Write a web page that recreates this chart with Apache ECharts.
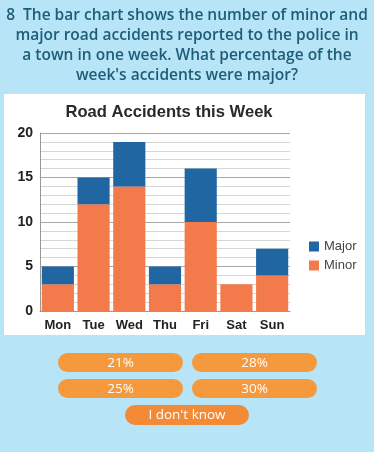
<!DOCTYPE html>
<html><head><meta charset="utf-8">
<script src="https://cdn.jsdelivr.net/npm/echarts@6/dist/echarts.min.js"></script>
<style>html,body{margin:0;padding:0;background:#b8e4f7;}#c{width:374px;height:452px;}</style>
</head><body><div id="c"></div>
<script>
var questionLines = [
  '8  The bar chart shows the number of minor and',
  'major road accidents reported to the police in',
  'a town in one week. What percentage of the',
  "week's accidents were major?"
];
var chartTitle = 'Road Accidents this Week';
var days = ['Mon','Tue','Wed','Thu','Fri','Sat','Sun'];
var minor = [3, 12, 14, 3, 10, 3, 4];
var major = [2, 3, 5, 2, 6, 0, 3];
var answers = ['21%','28%','25%','30%'];
var dontKnow = "I don't know";

var chart = echarts.init(document.getElementById('c'));
var g = [];
g.push({type:'rect', shape:{x:4,y:94,width:361,height:241}, style:{fill:'#ffffff'}, z:-10});
questionLines.forEach(function(t,i){
  g.push({type:'text', x:187, y:16+i*20, style:{text:t, fill:'#1d5d77', font:'600 15.5px "Open Sans", sans-serif', align:'center', verticalAlign:'middle'}});
});
var btn = [[58,353],[192,353],[58,379],[192,379]];
answers.forEach(function(a,i){
  g.push({type:'rect', shape:{x:btn[i][0],y:btn[i][1],width:125,height:19,r:9.5}, style:{fill:'#f5993c'}});
  g.push({type:'text', x:btn[i][0]+62.5, y:btn[i][1]+10, style:{text:a, fill:'#ffffff', font:'13.5px "Open Sans", sans-serif', align:'center', verticalAlign:'middle'}});
});
g.push({type:'rect', shape:{x:125,y:405,width:124,height:20,r:10}, style:{fill:'#f28a36'}});
g.push({type:'text', x:187, y:415, style:{text:dontKnow, fill:'#ffffff', font:'13.5px "Open Sans", sans-serif', align:'center', verticalAlign:'middle'}});

chart.setOption({
  animation:false,
  backgroundColor:'#b8e4f7',
  title:{text:chartTitle, left:164, top:99, textAlign:'center',
    textStyle:{fontFamily:'Liberation Sans, Arial, sans-serif', fontWeight:'bold', fontSize:16.6, color:'#2a2a2a'}},
  legend:{data:['Major','Minor'], orient:'vertical', left:304, top:235, itemWidth:10, itemHeight:10, itemGap:6,
    icon:'rect', textStyle:{fontFamily:'Liberation Sans, Arial, sans-serif', fontSize:13, color:'#444'}},
  grid:{left:40, right:84, top:133, bottom:141},
  xAxis:{type:'category', data:days,
    axisLine:{lineStyle:{color:'#999'}}, axisTick:{show:false},
    axisLabel:{margin:8, fontFamily:'Liberation Sans, Arial, sans-serif', fontWeight:'bold', fontSize:13, color:'#222'}},
  yAxis:{type:'value', min:0, max:20, interval:5,
    axisLine:{show:true, lineStyle:{color:'#999'}}, axisTick:{show:false},
    axisLabel:{margin:7, fontFamily:'Liberation Sans, Arial, sans-serif', fontWeight:'bold', fontSize:14, color:'#222'},
    splitLine:{lineStyle:{color:'#a8a8a8', width:1}},
    minorTick:{show:false, splitNumber:5},
    minorSplitLine:{show:true, lineStyle:{color:'#d6d6d6', width:1}}},
  graphic:g,
  series:[
    {name:'Minor', type:'bar', stack:'a', data:minor, barCategoryGap:'10%', itemStyle:{color:'#f27a4b'}},
    {name:'Major', type:'bar', stack:'a', data:major, barCategoryGap:'10%', itemStyle:{color:'#1f66a3'}}
  ]
});
</script></body></html>
